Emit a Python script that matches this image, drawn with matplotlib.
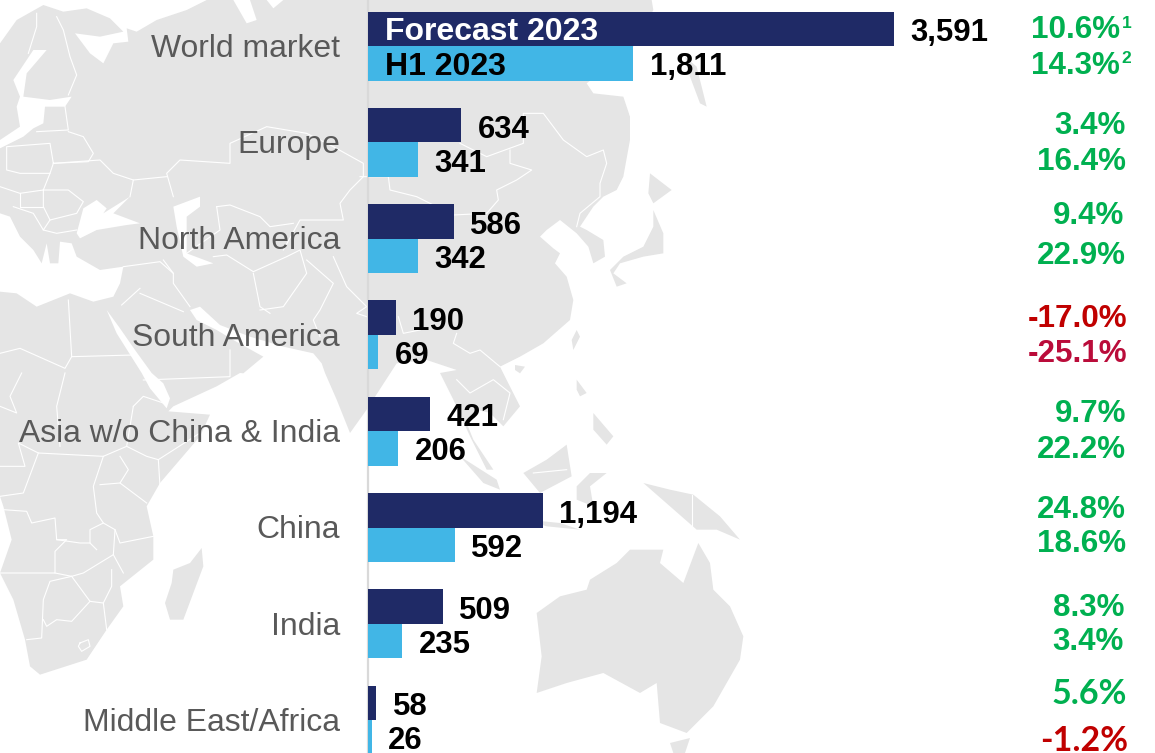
import matplotlib
matplotlib.use("Agg")
import matplotlib.pyplot as plt

# ---- data ----
regions = ["World market", "Europe", "North America", "South America",
           "Asia w/o China & India", "China", "India", "Middle East/Africa"]
forecast_2023 = [3591, 634, 586, 190, 421, 1194, 509, 58]
h1_2023 = [1811, 341, 342, 69, 206, 592, 235, 26]
growth_forecast = ["10.6%", "3.4%", "9.4%", "-17.0%", "9.7%", "24.8%", "8.3%", "5.6%"]
growth_h1 = ["14.3%", "16.4%", "22.9%", "-25.1%", "22.2%", "18.6%", "3.4%", "-1.2%"]
footnote_forecast = ["1"]
footnote_h1 = ["2"]

# ---- layout / style ----
W, H = 1155, 753
DARK, LIGHT = "#1F2A66", "#41B6E6"
LAND = "#E5E5E5"
GREEN, RED, CRIMSON = "#00B050", "#C00000", "#BA0C3A"
GRAY = "#595959"
FS_LABEL, FS_VALUE, FS_LEGEND, FS_PCT = 22.95, 22.4, 23, 22.6
PX_PER_UNIT = 0.1465
X0 = 368
ROW0, ROW_STEP = 46.0, 96.3
growth_y_fc = [27, 123, 212, 315, 411, 507, 604, 691]
growth_y_h1 = [62, 158, 253, 350, 446, 541, 639, 738]
growth_r_fc = [1120, 1126, 1124, 1127, 1126, 1126, 1124, 1127]
growth_r_h1 = [1120, 1126, 1126, 1127, 1126, 1126, 1124, 1128]

plt.rcParams["font.family"] = ["Liberation Sans", "DejaVu Sans"]
fig = plt.figure(figsize=(W / 100, H / 100), dpi=100)

# ---- background map (decorative), in pixel space ----
m = fig.add_axes([0, 0, 1, 1], zorder=0)
m.set_xlim(0, W)
m.set_ylim(H, 0)
m.axis("off")

def z1(p): return [(x / 3, y / 3) for x, y in p]
def z2(p): return [(x / 3, y / 3 + 373) for x, y in p]
def z3(p): return [(x / 3 + 360, y / 3) for x, y in p]
def z4(p): return [(x / 3 + 360, y / 3 + 373) for x, y in p]

mainland = (
    z1([(0, 130), (50, 60), (130, 15), (190, 35), (260, 25), (330, 55), (370, 95), (300, 110),
        (225, 100), (270, 160), (310, 190), (340, 130), (385, 125), (380, 85), (410, 95),
        (470, 60), (560, 30), (620, 0), (700, 0), (740, 70), (770, 60), (750, 0), (800, 0),
        (820, 25), (850, 0)])
    + z3([(875, 0), (880, 30), (820, 140), (680, 250), (700, 280), (790, 290), (810, 350),
          (810, 420), (790, 530), (770, 570), (730, 590), (700, 620), (660, 680), (680, 690),
          (730, 720), (735, 770), (700, 790), (685, 740), (650, 700), (600, 660), (560, 690),
          (540, 710), (580, 745), (600, 760), (585, 790), (620, 830), (640, 900), (630, 960),
          (550, 1030), (480, 1070), (420, 1100), (440, 1140)])
    + z4([(480, 100), (430, 160), (390, 120), (350, 110), (320, 150), (340, 200), (400, 290),
          (380, 290), (330, 190), (280, 80), (240, 0)])
    + z3([(290, 1110), (200, 1080), (110, 1090)])
    + z2([(1100, 110), (1050, 180), (1010, 80), (975, 0)])
    + z1([(965, 1090), (940, 1060), (850, 1040), (750, 1010), (660, 975), (600, 920), (570, 930),
          (590, 960), (620, 975), (650, 990), (700, 1020), (790, 1070), (730, 1120)])
    + z2([(720, 0), (650, 40), (520, 100), (505, 115), (630, 125), (600, 190), (480, 330),
          (440, 400), (460, 490), (460, 560), (360, 640), (370, 700), (320, 770), (260, 860),
          (120, 905), (90, 880), (75, 800), (40, 680), (0, 600), (35, 500), (10, 400), (0, 370)])
)
land_parts = [
    mainland,
    z2([(605, 525), (610, 580), (550, 740), (510, 740), (495, 690), (515, 630), (520, 590), (570, 570)]),
    z3([(975, 170), (1010, 200), (1040, 320), (1020, 310), (990, 230)]),
    z3([(870, 520), (935, 570), (880, 610), (865, 580)]),
    z3([(880, 630), (910, 700), (910, 760), (850, 770), (780, 790), (760, 820), (800, 850), (770, 860),
        (750, 810), (790, 770), (850, 740), (880, 680)]),
    z3([(650, 990), (660, 1010), (640, 1050), (635, 1020)]),
    z3([(465, 1095), (495, 1100), (480, 1120), (465, 1110)]),
    z4([(650, 20), (680, 60), (660, 70), (650, 50)]),
    z4([(700, 120), (760, 190), (740, 215), (700, 170)]),
    z4([(300, 250), (410, 320), (420, 350), (370, 330)]),
    z4([(490, 300), (560, 260), (620, 215), (635, 310), (540, 360)]),
    z4([(650, 340), (690, 300), (740, 300), (690, 340), (700, 400), (650, 380)]),
    z4([(500, 440), (600, 450), (660, 470), (560, 460)]),
    z4([(850, 330), (930, 350), (1000, 365), (1080, 430), (1140, 500), (1070, 470), (1010, 470), (930, 400)]),
    z4([(530, 720), (600, 670), (680, 650), (690, 620), (770, 570), (810, 530), (910, 530), (900, 570),
        (970, 630), (1015, 510), (1050, 570), (1060, 650), (1110, 700), (1150, 790), (1140, 860),
        (1060, 1000), (980, 1080), (900, 1050), (890, 930), (840, 960), (730, 900), (620, 930),
        (530, 960), (545, 850)]),
    z4([(930, 1110), (990, 1095), (975, 1140), (940, 1140)]),
]
water_parts = [
    z1([(40, 240), (100, 150), (140, 150), (80, 220), (70, 290), (150, 300), (215, 290), (195, 320),
        (135, 320), (130, 370), (100, 385), (70, 410), (0, 445), (0, 420), (60, 380), (50, 320), (60, 290)]),
    z1([(0, 640), (30, 650), (60, 710), (100, 750), (125, 790), (140, 730), (150, 790), (175, 790),
        (180, 725), (215, 730), (230, 770), (300, 810), (370, 800), (360, 850), (340, 890), (280, 905),
        (210, 880), (110, 920), (50, 880), (0, 875)]),
    z1([(230, 700), (250, 625), (290, 600), (320, 625), (310, 640), (350, 615), (390, 590), (340, 640),
        (420, 670), (380, 675), (290, 690), (240, 715)]),
    z1([(520, 620), (600, 590), (600, 620), (560, 650), (560, 760), (640, 790), (590, 800), (550, 770), (530, 680)]),
    z1([(320, 930), (350, 1000), (425, 1119), (450, 1165), (500, 1225), (510, 1195), (490, 1150),
        (455, 1119), (405, 1050), (360, 985)]),
    z3([(800, 300), (840, 380), (850, 480), (825, 420)]),
]
border_parts = [
    z1([(110, 40), (110, 80), (85, 160)]),
    z1([(170, 50), (190, 90), (210, 170), (230, 225), (205, 285)]),
    z1([(195, 320), (205, 390), (110, 395)]),
    z1([(205, 395), (250, 410), (280, 460), (265, 485), (160, 490), (150, 430), (20, 440), (20, 510), (60, 520), (150, 520), (160, 490)]),
    z1([(160, 490), (300, 480), (340, 520), (400, 540), (390, 590)]),
    z1([(150, 520), (130, 570), (60, 580), (0, 560)]),
    z1([(130, 570), (205, 570), (250, 605), (230, 640), (150, 660), (130, 620), (130, 570)]),
    z1([(60, 580), (60, 620), (130, 620)]),
    z1([(150, 660), (130, 690), (100, 640), (40, 620)]),
    z1([(130, 690), (170, 700), (230, 690)]),
    z1([(400, 540), (500, 530)]),
    z1([(520, 590), (500, 520), (540, 480), (690, 490), (690, 430), (800, 380), (920, 400), (1000, 440),
        (1090, 490), (1090, 530), (1050, 570), (1020, 610), (1030, 660), (900, 660), (850, 750)]),
    z1([(650, 620), (690, 615), (780, 650), (810, 680), (880, 670)]),
    z1([(650, 620), (660, 690), (560, 760)]),
    z1([(490, 780), (520, 820), (520, 850), (570, 920)]),
    z1([(760, 820), (780, 920), (810, 940)]),
    z1([(640, 770), (680, 765), (760, 815), (860, 770), (900, 750), (920, 820), (850, 920), (780, 930)]),
    z1([(920, 780), (1000, 850), (960, 930), (940, 960), (960, 1010)]),
    z1([(370, 800), (480, 785), (520, 820)]),
    z1([(420, 865), (365, 915)]),
    z1([(420, 880), (550, 935)]),
    z1([(205, 900), (215, 1070), (400, 1065)]),
    z1([(215, 1070), (195, 1105), (60, 1045), (0, 1060)]),
    z1([(430, 1140), (690, 1130), (690, 1050)]),
    z1([(1000, 770), (1040, 860), (1100, 920), (1070, 940), (1100, 950)]),
    z2([(65, 0), (30, 70), (50, 120), (0, 100)]),
    z2([(195, 0), (170, 100), (180, 220)]),
    z2([(400, 100), (430, 70), (490, 90)]),
    z2([(400, 100), (380, 220), (440, 250), (475, 260), (600, 180)]),
    z2([(475, 260), (480, 340)]),
    z2([(380, 220), (310, 250), (115, 240), (55, 210), (75, 280), (0, 280)]),
    z2([(115, 240), (70, 360), (0, 370)]),
    z2([(310, 250), (280, 340), (290, 420), (310, 450), (270, 470), (270, 510), (290, 530)]),
    z2([(360, 250), (385, 290), (360, 330), (440, 390)]),
    z2([(300, 335), (360, 330)]),
    z2([(10, 410), (80, 415), (95, 450), (165, 435), (170, 500), (200, 500), (165, 535), (165, 600), (0, 600)]),
    z2([(170, 500), (240, 510), (270, 510)]),
    z2([(310, 450), (345, 470), (360, 510), (460, 490)]),
    z2([(345, 470), (340, 545), (370, 600)]),
    z2([(340, 545), (250, 600), (215, 610), (165, 600)]),
    z2([(215, 610), (150, 625), (130, 680), (125, 795), (80, 800)]),
    z2([(130, 740), (140, 760), (170, 740), (215, 745), (270, 685), (310, 690), (335, 640), (335, 590)]),
    z2([(215, 610), (270, 685)]),
    z2([(310, 690), (320, 770)]),
    z2([(240, 810), (265, 800), (270, 820), (245, 835), (235, 820), (240, 810)]),
    z3([(0, 530), (85, 530), (90, 570), (170, 590), (280, 645)]),
    z3([(300, 430), (380, 470), (490, 430), (490, 340), (550, 340), (610, 420), (680, 470), (730, 450),
        (740, 490), (720, 550), (720, 590), (660, 640), (650, 680)]),
    z3([(450, 450), (450, 490), (515, 510), (470, 540), (410, 570), (415, 600), (380, 640), (280, 645)]),
    z3([(290, 1000), (280, 1030), (330, 1060), (360, 1050), (420, 1100)]),
    z3([(115, 950), (130, 1000), (180, 990)]),
    z4([(290, 20), (330, 60), (400, 20), (450, 60), (430, 140)]),
    z4([(995, 365), (995, 470)]),
    z4([(520, 300), (620, 290)]),
]
for part in land_parts:
    m.fill(*zip(*part), facecolor=LAND, edgecolor="none", zorder=1)
for part in water_parts:
    m.fill(*zip(*part), facecolor="white", edgecolor="none", zorder=2)
for part in border_parts:
    m.plot(*zip(*part), color="white", lw=0.8, zorder=3)

# ---- chart axes, sharing the figure ----
ax = fig.add_axes([0, 0, 1, 1], zorder=1)
ax.patch.set_alpha(0)
ax.set_xlim(-X0 / PX_PER_UNIT, (W - X0) / PX_PER_UNIT)
ax.set_ylim((H - ROW0) / ROW_STEP, -ROW0 / ROW_STEP)
ax.axis("off")

BAR_H = 34.5 / ROW_STEP
ypos = list(range(len(regions)))
ax.barh([y - BAR_H / 2 for y in ypos], forecast_2023, height=BAR_H, color=DARK, zorder=3)
ax.barh([y + BAR_H / 2 for y in ypos], h1_2023, height=BAR_H, color=LIGHT, zorder=3)
ax.axvline(0, color="#D9D9D9", lw=1.6, zorder=2)

PAD = 16.5 / PX_PER_UNIT
for y, name, fc, h1 in zip(ypos, regions, forecast_2023, h1_2023):
    ax.text(-28 / PX_PER_UNIT, y - 0.007, name, ha="right", va="center_baseline",
            fontsize=FS_LABEL, color=GRAY, zorder=5)
    ax.text(fc + PAD, y - BAR_H / 2 + 0.01, f"{fc:,}", ha="left", va="center_baseline",
            fontsize=FS_VALUE, fontweight="bold", color="black", zorder=5)
    ax.text(h1 + PAD, y + BAR_H / 2 + 0.005, f"{h1:,}", ha="left", va="center_baseline",
            fontsize=FS_VALUE, fontweight="bold", color="black", zorder=5)

ax.text(17 / PX_PER_UNIT, -BAR_H / 2 + 0.002, "Forecast 2023", ha="left", va="center_baseline",
        fontsize=FS_LEGEND, fontweight="bold", color="white", zorder=5)
ax.text(17 / PX_PER_UNIT, BAR_H / 2 + 0.002, "H1 2023", ha="left", va="center_baseline",
        fontsize=FS_LEGEND, fontweight="bold", color="black", zorder=5)

# growth column
def gcolor(s):
    if s == "-25.1%":
        return CRIMSON
    return RED if s.startswith("-") else GREEN

for i, (a, b, ya, yb, ra, rb) in enumerate(zip(growth_forecast, growth_h1, growth_y_fc,
                                               growth_y_h1, growth_r_fc, growth_r_h1)):
    style = dict(ha="right", va="center_baseline", fontweight="bold", zorder=6)
    last = i == len(regions) - 1   # last row is set in a humanist face in the source
    kw = dict(family=["Lato", "DejaVu Sans"], fontsize=24.5) if last else dict(fontsize=FS_PCT)
    fig.text(ra / W, 1 - ya / H, a, color=gcolor(a), **style, **kw)
    fig.text(rb / W, 1 - yb / H, b, color=gcolor(b), **style, **kw)

fig.text(1122 / W, 1 - 22 / H, footnote_forecast[0], ha="left", va="center_baseline",
         fontsize=12.5, color=GREEN, fontweight="bold")
fig.text(1121 / W, 1 - 57 / H, footnote_h1[0], ha="left", va="center_baseline",
         fontsize=12.5, color=GREEN, fontweight="bold")

fig.savefig("out.png", dpi=100)
